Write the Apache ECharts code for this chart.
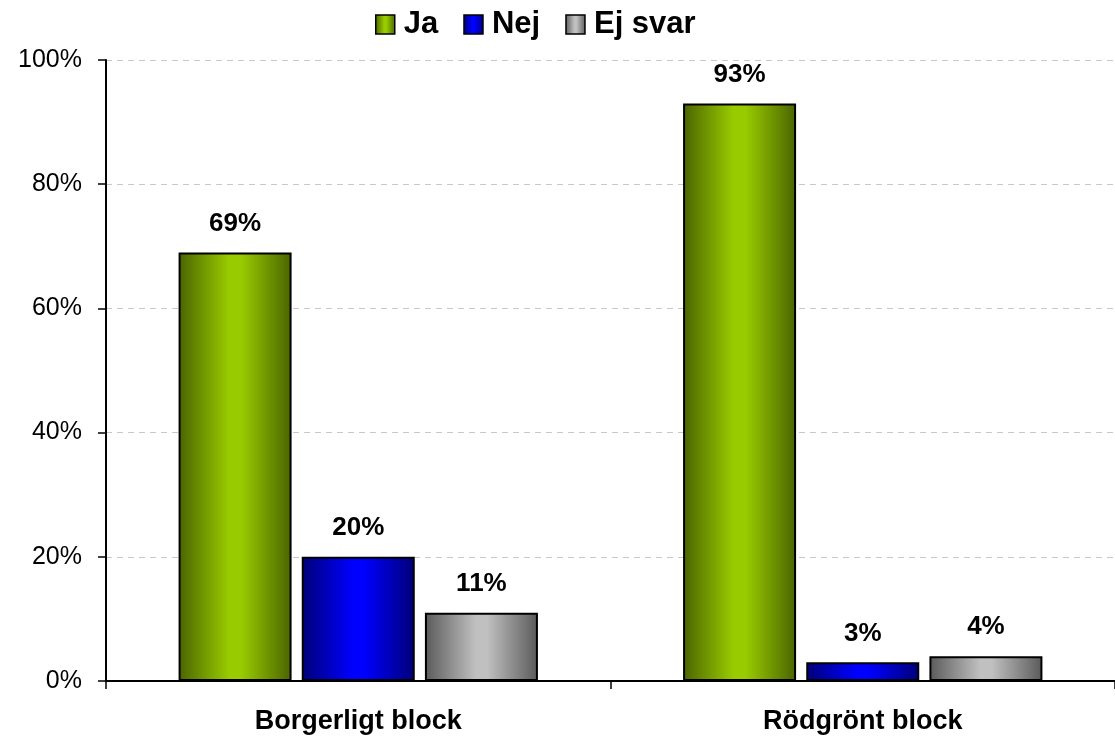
<!DOCTYPE html>
<html><head><meta charset="utf-8">
<script src="https://cdn.jsdelivr.net/npm/echarts@6/dist/echarts.min.js"></script>
<style>html,body{margin:0;padding:0;background:#fff}#c{width:1115px;height:738px}</style>
</head><body><div id="c"></div>
<script>
const categories = ['Borgerligt block', 'Rödgrönt block'];
const seriesNames = ['Ja', 'Nej', 'Ej svar'];
const jaValues = [69, 93];
const nejValues = [20, 3];
const ejSvarValues = [11, 4];
const yTicks = [0, 20, 40, 60, 80, 100];

function grad(edge, mid) {
  return new echarts.graphic.LinearGradient(0, 0, 1, 0, [
    {offset: 0, color: edge}, {offset: 0.45, color: mid}, {offset: 0.55, color: mid}, {offset: 1, color: edge}
  ]);
}
const colors = [grad('#4a6400', '#99cc00'), grad('#000078', '#0000ff'), grad('#5a5a5a', '#c0c0c0')];
const data = [jaValues, nejValues, ejSvarValues];
const font = 'Liberation Sans, Arial, sans-serif';

const chart = echarts.init(document.getElementById('c'), null, {renderer: 'canvas'});
chart.setOption({
  animation: false,
  backgroundColor: '#fff',
  textStyle: {fontFamily: font},
  legend: {
    top: 4, left: 370, itemWidth: 19, itemHeight: 19, itemGap: 25,
    textStyle: {fontSize: 31, fontWeight: 'bold', color: '#000', fontFamily: font, padding: [0, 0, 0, 4]},
    itemStyle: {borderColor: '#000', borderWidth: 1.5},
    data: seriesNames.map(n => ({name: n, icon: 'rect'}))
  },
  grid: {left: 106, right: -6, top: 60, bottom: 57, containLabel: false},
  xAxis: {
    type: 'category', data: categories,
    axisLine: {lineStyle: {color: '#000', width: 2}},
    axisTick: {show: true, length: 8, lineStyle: {color: '#000', width: 1.5}},
    axisLabel: {fontSize: 27, fontWeight: 'bold', color: '#000', margin: 27, fontFamily: font}
  },
  yAxis: {
    type: 'value', min: yTicks[0], max: yTicks[yTicks.length - 1], interval: 20,
    axisLine: {show: true, lineStyle: {color: '#000', width: 2}},
    axisTick: {show: true, length: 8, lineStyle: {color: '#000', width: 1.5}},
    axisLabel: {fontSize: 25, color: '#000', margin: 24, formatter: '{value}%', fontFamily: font},
    splitLine: {show: true, lineStyle: {color: '#c8c8c8', type: [6, 5], width: 1}}
  },
  series: seriesNames.map((n, i) => ({
    name: n, type: 'bar', data: data[i], barWidth: 113, barGap: '9%',
    itemStyle: {color: colors[i], borderColor: '#000', borderWidth: 2},
    label: {show: true, position: 'top', distance: 16, formatter: '{c}%', fontSize: 26, fontWeight: 'bold', color: '#000', fontFamily: font}
  }))
});
</script></body></html>
